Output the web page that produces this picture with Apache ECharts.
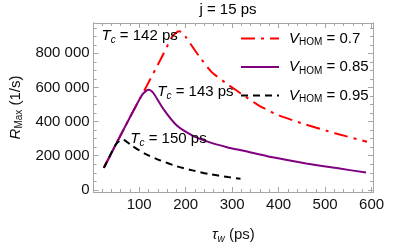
<!DOCTYPE html>
<html><head><meta charset="utf-8">
<script src="https://cdn.jsdelivr.net/npm/echarts@6/dist/echarts.min.js"></script>
<style>html,body{margin:0;padding:0;background:#fff}#c{width:397px;height:249px}</style>
</head><body><div id="c"></div>
<script>
// ---- data ----
const seriesNames = ['0.7', '0.85', '0.95'];
const tauRed  = [24, 50, 78, 105, 116, 146, 170, 178, 186, 194, 201, 229, 256, 291, 308, 329, 356, 397, 452, 521, 590];
const rateRed = [129000, 267000, 414000, 552000, 608000, 764000, 893000, 918000, 930000, 920000, 893000, 783000, 690000, 617000, 585000, 545000, 497000, 440000, 388000, 332000, 282000];
const tauPurple  = [24, 50, 78, 105, 115, 121, 127, 132, 153, 181, 215, 249, 289, 322, 390, 459, 528, 588];
const ratePurple = [129000, 267000, 414000, 552000, 580000, 586000, 578000, 562000, 470000, 377000, 318000, 281000, 250000, 230000, 189000, 155000, 126000, 101000];
const tauBlack  = [24, 50, 59, 64, 69, 85, 112, 146, 181, 215, 249, 291, 318];
const rateBlack = [129000, 267000, 290000, 295000, 290000, 258000, 212000, 172000, 138000, 114000, 93000, 75000, 65000];
const tcLabels = ['142', '143', '150'];
const tcTau  = [19, 139, 81];
const tcRate = [900600, 575000, 298000];
const xMajor = [100, 200, 300, 400, 500, 600];
const xMinor = [20, 40, 60, 80, 120, 140, 160, 180, 220, 240, 260, 280, 320, 340, 360, 380, 420, 440, 460, 480, 520, 540, 560, 580];
const yMajor = [0, 200000, 400000, 600000, 800000];
const yMinor = [50000, 100000, 150000, 250000, 300000, 350000, 450000, 500000, 550000, 650000, 700000, 750000, 850000, 900000, 950000];

const FONT = 'Liberation Sans, Arial, sans-serif';
const FRAME = '#a6a6a6';
const X_MIN = 2, X_MAX = 603, Y_MIN = -12700, Y_MAX = 977900;

function zip(a, b) { return a.map((v, i) => [v, b[i]]); }
function fmtY(v) { const s = String(Math.round(v)); return s.length > 3 ? s.slice(0, s.length - 3) + ' ' + s.slice(-3) : s; }

function xAx(pos, ticks, len, labels) {
  return {
    type: 'value', position: pos, min: X_MIN, max: X_MAX,
    axisLine: { show: true, onZero: false, lineStyle: { color: FRAME, width: 1 } },
    axisTick: { show: true, inside: true, length: len, customValues: ticks, lineStyle: { color: FRAME } },
    axisLabel: labels ? { show: true, customValues: ticks, fontSize: 15, color: '#111', margin: 5, fontFamily: FONT } : { show: false },
    splitLine: { show: false }
  };
}
function yAx(pos, ticks, len, labels) {
  return {
    type: 'value', position: pos, min: Y_MIN, max: Y_MAX,
    axisLine: { show: true, onZero: false, lineStyle: { color: FRAME, width: 1 } },
    axisTick: { show: true, inside: true, length: len, customValues: ticks, lineStyle: { color: FRAME } },
    axisLabel: labels ? { show: true, customValues: ticks, fontSize: 15, color: '#111', margin: 4, fontFamily: FONT, formatter: fmtY } : { show: false },
    splitLine: { show: false }
  };
}

const xAxes = [xAx('bottom', xMajor, 5, true), xAx('bottom', xMinor, 3, false), xAx('top', xMajor, 5, false), xAx('top', xMinor, 3, false)];
xAxes[0].name = '{t|τ}{w|w} (ps)';
xAxes[0].nameLocation = 'middle';
xAxes[0].nameGap = 34;
xAxes[0].nameTextStyle = { fontSize: 15, color: '#111', fontFamily: FONT, rich: {
  t: { fontSize: 15, fontStyle: 'italic', fontFamily: FONT, color: '#111', lineHeight: 18 },
  w: { fontSize: 10, fontStyle: 'italic', fontFamily: FONT, color: '#111', verticalAlign: 'bottom', lineHeight: 12 } } };
const yAxes = [yAx('left', yMajor, 5, true), yAx('left', yMinor, 3, false), yAx('right', yMajor, 5, false), yAx('right', yMinor, 3, false)];
yAxes[0].name = '{r|R}{m|Max} (1/s)';
yAxes[0].nameLocation = 'middle';
yAxes[0].nameGap = 60;
yAxes[0].nameRotate = 90;
yAxes[0].nameTextStyle = { fontSize: 15, color: '#111', fontFamily: FONT, rich: {
  r: { fontSize: 15, fontStyle: 'italic', fontFamily: FONT, color: '#111', lineHeight: 18 },
  m: { fontSize: 10, fontFamily: FONT, color: '#111', verticalAlign: 'bottom', lineHeight: 12 } } };

const richT = {
  i: { fontSize: 15, fontStyle: 'italic', fontFamily: FONT, color: '#000', lineHeight: 18 },
  s: { fontSize: 10, fontStyle: 'italic', fontFamily: FONT, color: '#000', verticalAlign: 'bottom', lineHeight: 12 },
  n: { fontSize: 15, fontFamily: FONT, color: '#000', lineHeight: 18 }
};
const richV = {
  v: { fontSize: 15, fontStyle: 'italic', fontFamily: FONT, color: '#000', lineHeight: 18 },
  h: { fontSize: 10, fontFamily: FONT, color: '#000', verticalAlign: 'bottom', lineHeight: 12 },
  n: { fontSize: 15, fontFamily: FONT, color: '#000', lineHeight: 18 }
};

const chart = echarts.init(document.getElementById('c'), null, { renderer: 'canvas' });
chart.setOption({
  animation: false,
  backgroundColor: '#fff',
  grid: { left: 82, right: 24, top: 23, bottom: 47, containLabel: false },
  xAxis: xAxes,
  yAxis: yAxes,
  graphic: [{ type: 'text', x: 228, y: 2, style: { text: 'j = 15 ps', fontSize: 15, fontFamily: FONT, fill: '#000', textAlign: 'center', textVerticalAlign: 'top' } }],
  legend: {
    data: seriesNames, orient: 'vertical', left: 240, top: 31, padding: 0, itemWidth: 38, itemHeight: 14, itemGap: 12,
    itemStyle: { opacity: 0 },
    textStyle: { fontSize: 15, fontFamily: FONT, color: '#000', padding: [0, 0, 0, 5], rich: richV },
    formatter: n => '{v|V}{h|HOM}{n| = ' + n + '}'
  },
  series: [
    { name: seriesNames[0], type: 'line', data: zip(tauRed, rateRed), showSymbol: false, symbol: 'none', color: '#ff0000', smooth: 0.2,
      lineStyle: { color: '#ff0000', width: 2, type: [14, 6, 3, 6] } },
    { name: seriesNames[1], type: 'line', data: zip(tauPurple, ratePurple), showSymbol: false, symbol: 'none', color: '#800080', smooth: 0.2,
      lineStyle: { color: '#800080', width: 2 } },
    { name: seriesNames[2], type: 'line', data: zip(tauBlack, rateBlack), showSymbol: false, symbol: 'none', color: '#000', smooth: 0.2,
      lineStyle: { color: '#000', width: 2, type: [7, 5] } },
    { name: 'tc', type: 'scatter', data: zip(tcTau, tcRate), symbolSize: 0, silent: true, z: 5,
      label: { show: true, position: 'right', distance: 0, color: '#000', textBorderWidth: 0, opacity: 1, rich: richT,
        formatter: p => '{i|T}{s|c}{n| = ' + tcLabels[p.dataIndex] + ' ps}' } }
  ]
});
</script>
</body></html>
